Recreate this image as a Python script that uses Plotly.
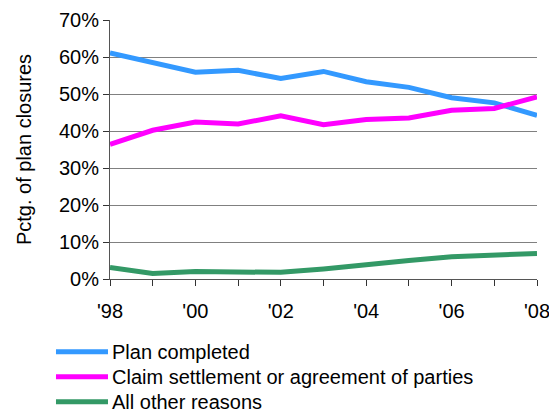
import plotly.graph_objects as go

years = [1998, 1999, 2000, 2001, 2002, 2003, 2004, 2005, 2006, 2007, 2008]
plan_completed = [61.1, 58.4, 55.9, 56.4, 54.2, 56.1, 53.3, 51.8, 49.0, 47.6, 44.2]
claim_settlement = [36.4, 40.2, 42.4, 41.9, 44.1, 41.7, 43.1, 43.5, 45.6, 46.1, 49.2]
other_reasons = [3.1, 1.5, 2.0, 2.0, 1.8, 2.7, 4.0, 5.0, 6.0, 6.5, 6.9]

series_names = ["Plan completed", "Claim settlement or agreement of parties", "All other reasons"]
series_values = [plan_completed, claim_settlement, other_reasons]
series_colors = ["#3399FF", "#FF00FF", "#339966"]

x_tick_text = ["'98", "", "'00", "", "'02", "", "'04", "", "'06", "", "'08"]
y_tick_vals = [0, 10, 20, 30, 40, 50, 60, 70]
y_tick_text = [f"{v}%" for v in y_tick_vals]

FONT = "Liberation Sans, Arial, sans-serif"

fig = go.Figure()
for name, vals, col in zip(series_names, series_values, series_colors):
    fig.add_trace(go.Scatter(x=years, y=vals, mode="lines", name=name,
                             line=dict(color=col, width=5), showlegend=False))

# custom legend (symbols + labels) below the plot
legend_y = [-0.2807, -0.3772, -0.4737]
for name, col, ly in zip(series_names, series_colors, legend_y):
    fig.add_shape(type="line", xref="paper", yref="paper",
                  x0=-0.1265, x1=-0.0047, y0=ly, y1=ly,
                  line=dict(color=col, width=5))
    fig.add_annotation(xref="paper", yref="paper", x=0.0047, y=ly, text=name,
                       showarrow=False, xanchor="left", yanchor="middle",
                       xshift=-2,
                       font=dict(family=FONT, size=20, color="#000000"))

fig.update_layout(
    width=549, height=406,
    margin=dict(l=102, r=20, t=12, b=135),
    paper_bgcolor="white", plot_bgcolor="white",
    font=dict(family=FONT, size=20, color="#000000"),
    xaxis=dict(range=[1998, 2008], tickvals=years, ticktext=x_tick_text,
               ticks="outside", ticklen=6, tickcolor="#333333",
               showgrid=False, zeroline=False, automargin=False,
               showline=True, linecolor="#555555", linewidth=1,
               ticklabelstandoff=8,
               tickfont=dict(family=FONT, size=20)),
    yaxis=dict(range=[0, 70], tickvals=y_tick_vals, ticktext=y_tick_text,
               ticks="outside", ticklen=6, tickcolor="#333333",
               showgrid=True, gridcolor="#808080", gridwidth=1,
               zeroline=False, automargin=False,
               showline=True, linecolor="#555555", linewidth=1,
               title=dict(text="Pctg. of plan closures", font=dict(family=FONT, size=20), standoff=21),
               tickfont=dict(family=FONT, size=20)),
)

fig.write_html("out.html")
